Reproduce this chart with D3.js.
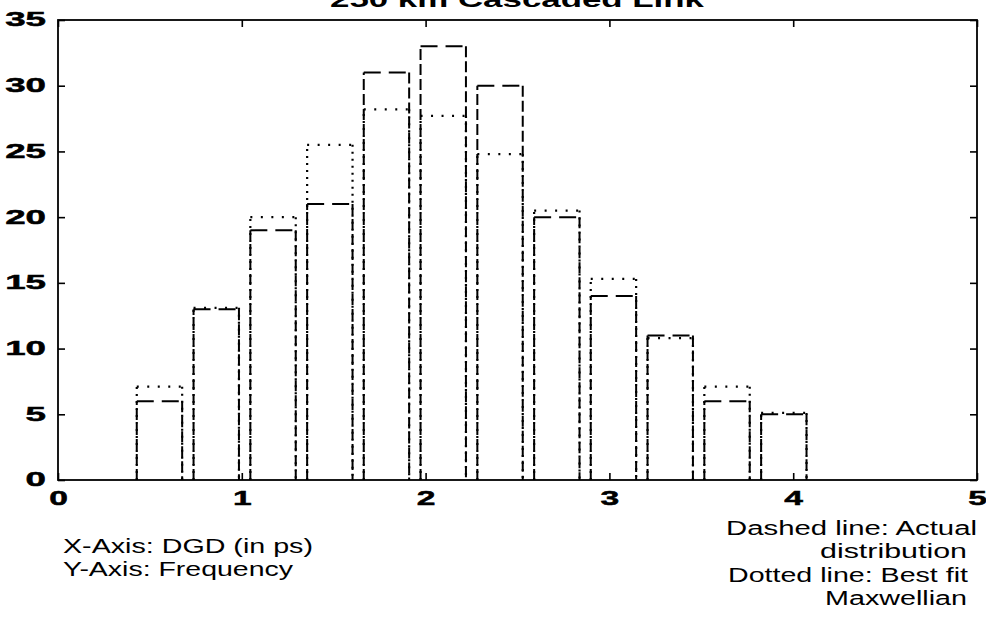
<!DOCTYPE html>
<html>
<head>
<meta charset="utf-8">
<script src="https://cdn.jsdelivr.net/npm/d3@7"></script>
<style>
  body { margin: 0; background: #fff; }
  svg { display: block; }
</style>
</head>
<body>
<svg id="chart" width="986" height="622"></svg>
<script>
// DGD histogram bins (ps) and counts
const binCenters   = [0.552, 0.861, 1.170, 1.479, 1.787, 2.096, 2.405, 2.714, 3.022, 3.331, 3.640, 3.949];
const actualCounts = [6, 13, 19, 21, 31, 33, 30, 20, 14, 11, 6, 5];
const maxwellFit   = [7.1, 13.1, 20.0, 25.5, 28.2, 27.7, 24.8, 20.5, 15.3, 10.8, 7.1, 5.1];
const barWidth = 0.247;

const xTicks = [0, 1, 2, 3, 4, 5];
const yTicks = [0, 5, 10, 15, 20, 25, 30, 35];

const titleText = "250 km Cascaded Link";
const notesLeft = ["X-Axis: DGD (in ps)", "Y-Axis: Frequency"];
const notesRight = ["Dashed line: Actual", "distribution", "Dotted line: Best fit", "Maxwellian"];

const svg = d3.select("#chart");
const x = d3.scaleLinear().domain([0, 5]).range([58, 977]);
const y = d3.scaleLinear().domain([0, 35]).range([480, 20]);

const tickFont = "'Liberation Sans', Arial, sans-serif";
const xLabelScale = 1.6;
const yLabelScale = 1.75;

// bars: each drawn as left side, top, right side so the dash rhythm differs by direction
function drawBars(values, cls, vDash, hDash, width) {
  const g = svg.append("g").attr("class", cls)
    .attr("fill", "none").attr("stroke", "#000").attr("stroke-width", width);
  binCenters.forEach((c, i) => {
    const x0 = x(c - barWidth / 2), x1 = x(c + barWidth / 2);
    const y0 = y(0), y1 = y(values[i]);
    g.append("line").attr("x1", x0).attr("y1", y0).attr("x2", x0).attr("y2", y1)
      .attr("stroke-dasharray", vDash);
    g.append("line").attr("x1", x0).attr("y1", y1).attr("x2", x1).attr("y2", y1)
      .attr("stroke-dasharray", hDash);
    g.append("line").attr("x1", x1).attr("y1", y1).attr("x2", x1).attr("y2", y0)
      .attr("stroke-dasharray", vDash);
  });
}

drawBars(maxwellFit, "fit", "2,5", "2,8.5", 2.2);
drawBars(actualCounts, "actual", "11,4", "17,8", 2);

// axes with inward ticks on all four sides
function styleAxis(g) {
  g.select(".domain").remove();
  g.selectAll(".tick line").attr("stroke", "#000").attr("stroke-width", 1.6);
  g.selectAll(".tick text")
    .attr("fill", "#000")
    .attr("stroke", "#000").attr("stroke-width", 0.5)
    .style("font-family", tickFont)
    .style("font-weight", "bold")
    .style("font-size", "21px");
}

const gBottom = svg.append("g").attr("transform", `translate(0,${y(0)})`)
  .call(d3.axisBottom(x).tickValues(xTicks).tickSize(-7).tickPadding(10).tickFormat(d3.format("d")));
styleAxis(gBottom);
gBottom.selectAll(".tick text").attr("transform", `scale(${xLabelScale},1)`);

const gLeft = svg.append("g").attr("transform", `translate(${x(0)},0)`)
  .call(d3.axisLeft(y).tickValues(yTicks).tickSize(-7).tickFormat(d3.format("d")));
styleAxis(gLeft);
gLeft.selectAll(".tick text")
  .attr("x", -12 / yLabelScale)
  .attr("dy", "0.28em")
  .attr("transform", `scale(${yLabelScale},1)`);

const gTop = svg.append("g").attr("transform", `translate(0,${y(35)})`)
  .call(d3.axisTop(x).tickValues(xTicks).tickSize(-7).tickFormat(""));
styleAxis(gTop);

const gRight = svg.append("g").attr("transform", `translate(${x(5)},0)`)
  .call(d3.axisRight(y).tickValues(yTicks).tickSize(-7).tickFormat(""));
styleAxis(gRight);

// plot frame
svg.append("rect")
  .attr("x", x(0)).attr("y", y(35))
  .attr("width", x(5) - x(0)).attr("height", y(0) - y(35))
  .attr("fill", "none").attr("stroke", "#000").attr("stroke-width", 1.8);

// title (runs off the top edge)
svg.append("text")
  .attr("x", 330).attr("y", 7)
  .attr("textLength", 374).attr("lengthAdjust", "spacingAndGlyphs")
  .style("font-family", tickFont).style("font-weight", "bold").style("font-size", "22px")
  .text(titleText);

// notes under the plot
const noteFont = "20px 'Liberation Sans', Arial, sans-serif";
const leftSpecs = [{ x: 63, y: 553, w: 250 }, { x: 63, y: 576, w: 230 }];
notesLeft.forEach((t, i) => {
  svg.append("text")
    .attr("x", leftSpecs[i].x).attr("y", leftSpecs[i].y)
    .attr("textLength", leftSpecs[i].w).attr("lengthAdjust", "spacingAndGlyphs")
    .style("font", noteFont).text(t);
});
const rightSpecs = [
  { end: 977, y: 535, w: 251 },
  { end: 967, y: 558, w: 147 },
  { end: 968, y: 582, w: 240 },
  { end: 967, y: 605, w: 142 }
];
notesRight.forEach((t, i) => {
  const s = rightSpecs[i];
  svg.append("text")
    .attr("x", s.end - s.w).attr("y", s.y)
    .attr("textLength", s.w).attr("lengthAdjust", "spacingAndGlyphs")
    .style("font", noteFont).text(t);
});
</script>
</body>
</html>
